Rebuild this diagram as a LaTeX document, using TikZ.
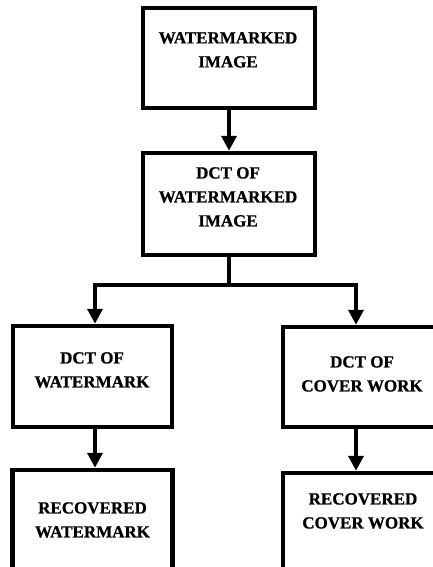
\documentclass[tikz,border=0pt]{standalone}
\usepackage{fontspec}
\setmainfont{Liberation Serif}
\newfontfamily\heavyserif[FakeBold=0.8]{Liberation Serif Bold}
\usetikzlibrary{arrows.meta}
\begin{document}
\begin{tikzpicture}[x=1pt,y=-1pt,
  box/.style={draw,line width=4.5pt,rectangle,inner sep=0pt,fill=white},
  label/.style={anchor=north,align=center,inner sep=0pt,
    font=\fontsize{17}{24}\selectfont\heavyserif},
  link/.style={line width=4pt},
  flow/.style={line width=4pt,-{Triangle[width=15pt,length=15pt]}}]
\useasboundingbox (0,0) rectangle (433,567);
\fill[white] (0,0) rectangle (433,567);
\clip (0,0) rectangle (433,567);

% boxes
\node[box,minimum width=172pt,minimum height=100pt] (b1) at (229,58) {};
\node[box,minimum width=172pt,minimum height=102pt] (b2) at (229,204) {};
\node[box,minimum width=159pt,minimum height=101pt] (b3) at (92.5,376.5) {};
\node[box,minimum width=160pt,minimum height=130pt] (b4) at (92.5,535) {};
\node[box,minimum width=158pt,minimum height=100pt] (b5) at (362,377) {};
\node[box,minimum width=160pt,minimum height=127pt] (b6) at (363,536.5) {};

% texts
\node[label] (t1) at (228,32) {WATERMARKED\\IMAGE};
\node[label] (t2) at (228,167) {DCT OF\\WATERMARKED\\IMAGE};
\node[label] (t3) at (92,352) {DCT OF\\WATERMARK};
\node[label] (t4) at (92.5,502) {RECOVERED\\WATERMARK};
\node[label] (t5) at (362,356) {DCT OF\\COVER WORK};
\node[label] (t6) at (363,493) {RECOVERED\\COVER WORK};

% connectors
\coordinate (row) at (0,285);
\coordinate (tapL) at (95,0);
\coordinate (tapR) at (356,0);
\draw[flow] (b1.south -| b2.north) -- (b2.north);
\draw[link] (b2.south) -- (b2.south |- row);
\draw[flow] (b2.south |- row) -| (b3.north -| tapL);
\draw[flow] (b2.south |- row) -| (b5.north -| tapR);
\draw[flow] (b3.south -| tapL) -- (b4.north -| tapL);
\draw[flow] (b5.south -| tapR) -- (b6.north -| tapR);
\end{tikzpicture}
\end{document}
